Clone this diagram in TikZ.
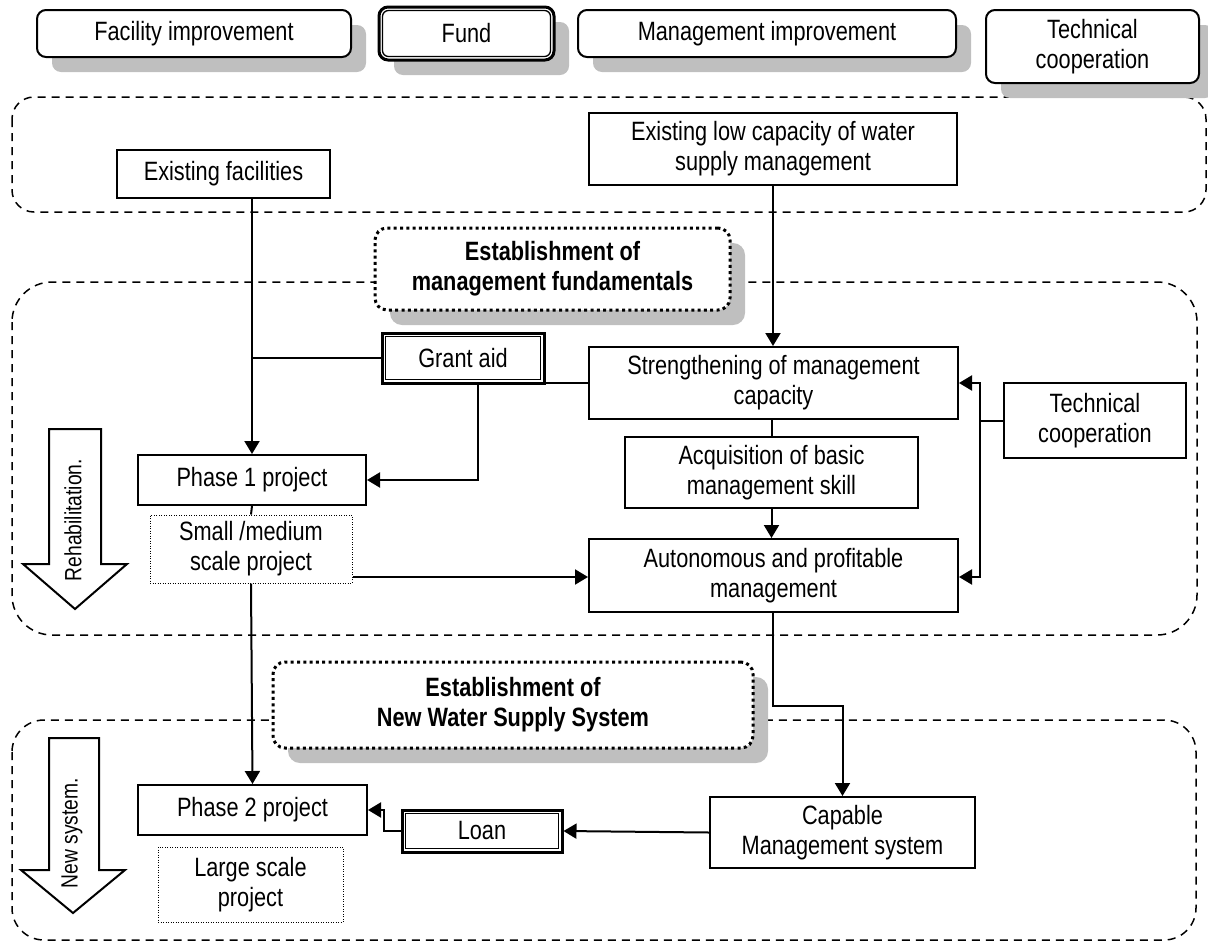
\documentclass[tikz,border=0pt]{standalone}
\usepackage{fontspec}
\setmainfont{Liberation Sans}[FakeStretch=0.82]
\usetikzlibrary{arrows.meta,shadows,calc}
\tikzset{
  box/.style   ={rectangle,draw,line width=2pt,fill=white,inner sep=0pt,
                 align=center,font=\fontsize{26.5}{30}\selectfont},
  shd/.style   ={drop shadow={shadow xshift=15pt,shadow yshift=-15pt,
                 fill=black!25,opacity=1}},
  rbox/.style  ={box,rounded corners=9pt,shd},
  dblbox/.style={box,line width=3pt},
  inbox/.style ={line width=1.3pt},
  estbox/.style={box,rounded corners=12pt,line width=3pt,
                 dash pattern=on 3pt off 3.3pt,shd,
                 font=\fontsize{26.5}{30}\selectfont\bfseries},
  dotbox/.style={box,line width=1pt,dash pattern=on 1pt off 1.5pt},
  region/.style={draw,line width=1.5pt,dash pattern=on 8pt off 6pt},
  lnk/.style   ={line width=2pt},
  sig/.style   ={lnk,-{Triangle[length=13pt,width=15pt]}},
  barrow/.style={draw,line width=2pt,fill=white},
  vlbl/.style  ={rotate=90,font=\fontsize{23.5}{28}\selectfont},
}

\begin{document}
\begin{tikzpicture}[x=1pt,y=-1pt]
  \useasboundingbox (0,0) rectangle (1208,943);
  % dashed regions
  \draw[region,rounded corners=22pt] (12,97)  rectangle (1206,212);
  \draw[region,rounded corners=40pt] (12,282) rectangle (1197,635);
  \draw[region,rounded corners=32pt] (12,720) rectangle (1196,940);
  % legend
  \node[rbox,minimum width=314pt,minimum height=47pt] (facil) at (194,33.5)   {Facility improvement};
  \node[dblbox,rounded corners=9pt,shd,minimum width=175pt,minimum height=53pt]
                                                      (fund)  at (466.5,33.5) {Fund};
  \node[rbox,minimum width=378pt,minimum height=47pt] (mgmt)  at (767,33.5)   {Management improvement};
  \node[rbox,minimum width=213pt,minimum height=73pt] (techl) at (1092.5,46.5){Technical\\cooperation};
  % nodes
  \node[box,minimum width=213pt,minimum height=48pt]  (exfac) at (223.5,174) {Existing facilities};
  \node[box,minimum width=368pt,minimum height=72pt]  (exlow) at (773,149)
       {Existing low capacity of water\\supply management};
  \node[estbox,minimum width=355pt,minimum height=82pt] (est1) at (552.5,269)
       {Establishment of\\management fundamentals};
  \node[dblbox,minimum width=162pt,minimum height=50pt] (grant) at (463,358) {Grant aid};
  \node[box,minimum width=369pt,minimum height=72pt]  (streng) at (773.5,383)
       {Strengthening of management\\capacity};
  \node[box,minimum width=182pt,minimum height=75pt]  (techc) at (1095,420.5) {Technical\\cooperation};
  \node[box,minimum width=293pt,minimum height=71pt]  (acq)   at (771.5,472.5)
       {Acquisition of basic\\management skill};
  \node[box,minimum width=369pt,minimum height=73pt]  (auton) at (773.5,575.5)
       {Autonomous and profitable\\management};
  \node[box,minimum width=228pt,minimum height=50pt]  (ph1)   at (252,480) {Phase 1 project};
  \node[dotbox,minimum width=202pt,minimum height=68pt] (small) at (251,549)
       {Small /medium\\scale project};
  \node[estbox,minimum width=480pt,minimum height=86pt] (est2) at (513,705)
       {Establishment of\\New Water Supply System};
  \node[box,minimum width=265pt,minimum height=71pt]  (capable) at (842.5,832.5)
       {Capable\\Management system};
  \node[dblbox,minimum width=160pt,minimum height=42pt] (loan) at (482,831) {Loan};
  \node[box,minimum width=229pt,minimum height=50pt]  (ph2)   at (252.5,810) {Phase 2 project};
  \node[dotbox,minimum width=185pt,minimum height=75pt] (large) at (250.5,884.5)
       {Large scale\\project};
  % inner lines of the double boxes
  \draw[inbox,rounded corners=6pt] ([shift={(5pt,-5pt)}]fund.north west)
       rectangle ([shift={(-5pt,5pt)}]fund.south east);
  \draw[inbox] ([shift={(5pt,-5pt)}]grant.north west)
       rectangle ([shift={(-5pt,5pt)}]grant.south east);
  \draw[inbox] ([shift={(5pt,-5pt)}]loan.north west)
       rectangle ([shift={(-5pt,5pt)}]loan.south east);
  % block arrows
  \draw[barrow] (49,429) -- (101,429) -- (101,564) -- (127,564) -- (75,609)
       -- (23,564) -- (49,564) -- cycle;
  \node[vlbl] (rehab) at (73,520) {Rehabilitation.};
  \draw[barrow] (49,738) -- (99,738) -- (99,870) -- (125,870) -- (73,913)
       -- (21,870) -- (49,870) -- cycle;
  \node[vlbl] (newsys) at (72,833) {New system.};
  % connectors
  \draw[sig] (ph1.north |- exfac.south) -- (ph1.north);
  \draw[lnk] (ph1.north |- grant.west) -- (grant.west);
  \draw[sig] ([xshift=15pt]grant.south) |- (ph1.east);
  \draw[lnk] (streng.west) -- (streng.west -| grant.east);
  \draw[sig] (exlow.south) -- (exlow.south |- streng.north);
  \draw[lnk] (acq.north |- streng.south) -- (acq.north);
  \draw[sig] (acq.south) -- (acq.south |- auton.north);
  \draw[lnk] (techc.west) -- ++(-23,0) coordinate (tj);
  \draw[sig] (tj) |- (streng.east);
  \draw[sig] (tj) |- ([yshift=-1.5pt]auton.east);
  \draw[sig] ([yshift=-1.5pt]small.east |- auton.west) -- ([yshift=-1.5pt]auton.west);
  \draw[lnk] (ph1.south) -- (small.north);
  \draw[sig] (small.south) -- (ph2.north);
  \draw[sig] (exlow.south |- auton.south) -- ++(0,93) -| (capable.north);
  \draw[sig] (capable.west) -- (loan.east);
  \draw[sig] (loan.west) -- ++(-17,0) |- (ph2.east);
\end{tikzpicture}
\end{document}
